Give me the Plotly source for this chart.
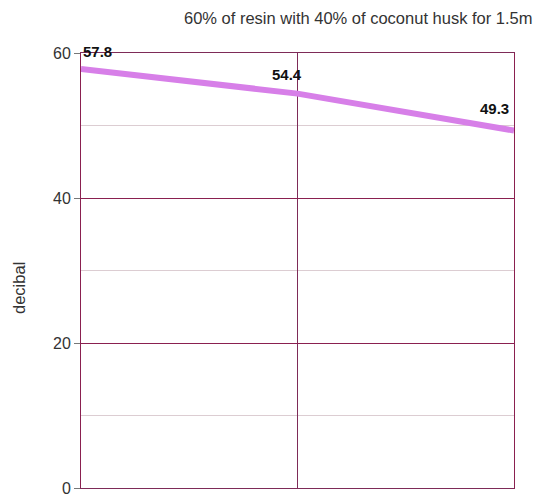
import plotly.graph_objects as go

categories = ["A", "B", "C"]
decibel_values = [57.8, 54.4, 49.3]
value_labels = ["57.8", "54.4", "49.3"]
y_ticks = [0, 20, 40, 60]
title_text = "60% of resin with 40% of coconut husk for 1.5m"
y_title = "decibal"

FONT = "Liberation Sans, Arial, sans-serif"

fig = go.Figure()
fig.add_trace(go.Scatter(
    x=categories, y=decibel_values, mode="lines",
    line=dict(color="#d77fe8", width=6),
    cliponaxis=False, showlegend=False, hoverinfo="x+y",
))

# label placement styling (not data)
label_anchor = ["left", "center", "right"]
label_xshift = [0, -11, -3]
label_yshift = [7, 9, 12]

annotations = []
for cat, val, lab, anc, xs, ys in zip(categories, decibel_values, value_labels,
                                      label_anchor, label_xshift, label_yshift):
    annotations.append(dict(
        x=cat, y=val, xref="x", yref="y", text=f"<b>{lab}</b>",
        showarrow=False, xanchor=anc, yanchor="bottom", xshift=xs, yshift=ys,
        font=dict(family=FONT, size=15, color="#111111"),
    ))

annotations.append(dict(
    text=title_text, xref="paper", yref="paper", x=1.0485, y=1.0,
    xanchor="right", yanchor="middle", yshift=35, showarrow=False,
    font=dict(family=FONT, size=16.5, color="#333333"),
))
annotations.append(dict(
    text=y_title, xref="paper", yref="paper", x=-0.143, y=0.46,
    xanchor="center", yanchor="middle", textangle=-90, showarrow=False,
    font=dict(family=FONT, size=16.5, color="#333333"),
))

fig.update_layout(
    width=535, height=495,
    margin=dict(l=73, r=29, t=45, b=15),
    paper_bgcolor="white", plot_bgcolor="white",
    font=dict(family=FONT, size=16, color="#333333"),
    annotations=annotations,
)
fig.update_xaxes(
    type="category", range=[0, 2], showgrid=True, gridcolor="#7e2b58", gridwidth=1,
    zeroline=False, showline=True, linecolor="#7e2b58", mirror=True,
    showticklabels=False, ticks="", automargin=False,
)
fig.update_yaxes(
    range=[0, 60], tickvals=y_ticks, showgrid=True, gridcolor="#8a2050", gridwidth=1,
    minor=dict(dtick=10, showgrid=True, gridcolor="#dccdd2", gridwidth=1),
    zeroline=False, showline=True, linecolor="#8a2050", mirror=True,
    ticks="outside", ticklen=6, tickcolor="#777777",
    tickfont=dict(family=FONT, size=16, color="#333333"),
    ticklabeloverflow="allow",
    automargin=False,
)

fig.write_html("out.html")
